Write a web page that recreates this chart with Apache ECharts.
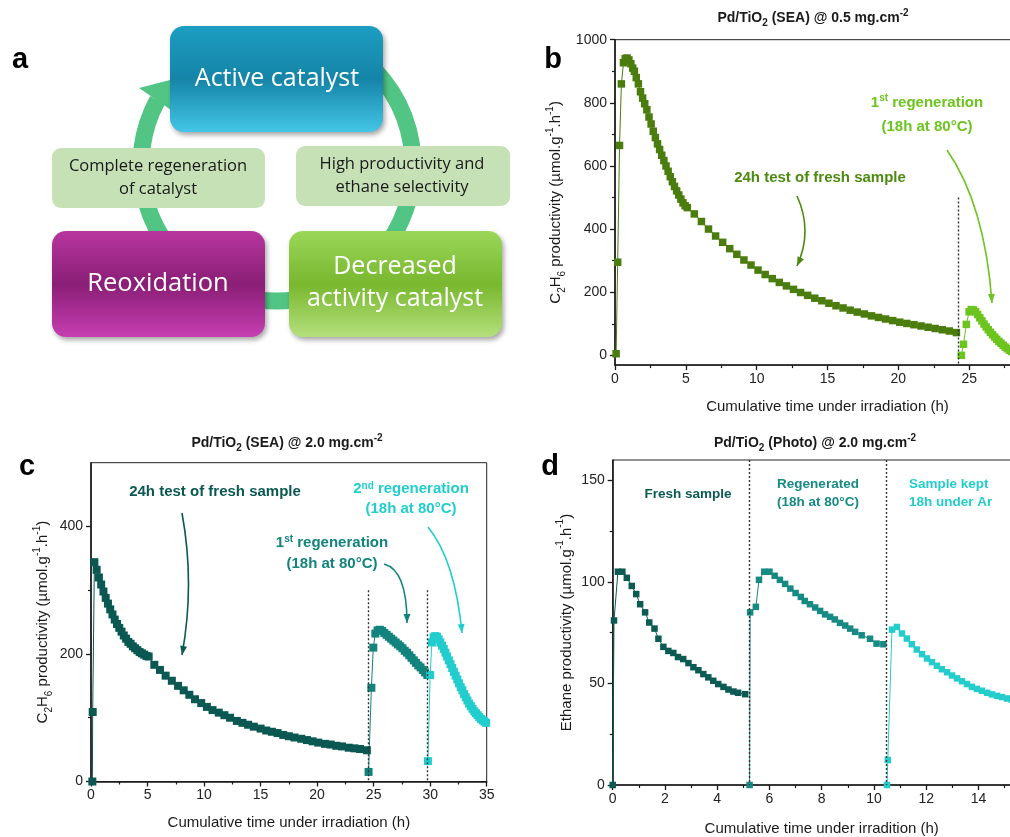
<!DOCTYPE html>
<html>
<head>
<meta charset="utf-8">
<script src="https://cdn.jsdelivr.net/npm/echarts@6/dist/echarts.min.js"></script>
<style>
  html, body { margin: 0; padding: 0; background: #fff; }
  #main { width: 1010px; height: 837px; }
</style>
</head>
<body>
<div id="main"></div>
<script>
// ---- data ----
// panel b : Pd/TiO2 (SEA) @ 0.5 mg.cm-2
var bFreshT = [0.08, 0.19, 0.32, 0.45, 0.6, 0.72, 0.85, 0.98, 1.12, 1.25, 1.37, 1.5, 1.65, 1.8, 1.95, 2.1, 2.25, 2.4, 2.55, 2.7, 2.85, 3.0, 3.15, 3.3, 3.45, 3.6, 3.75, 3.9, 4.05, 4.2, 4.35, 4.5, 4.65, 4.8, 4.95, 5.1,
  5.6, 6.1, 6.6, 7.1, 7.6, 8.1, 8.6, 9.1, 9.6, 10.1, 10.6, 11.1, 11.6, 12.1, 12.6, 13.1, 13.6, 14.1, 14.6, 15.1, 15.6, 16.1, 16.6, 17.1, 17.6, 18.1, 18.6, 19.1, 19.6, 20.1, 20.6, 21.1, 21.6, 22.1, 22.6, 23.1, 23.6, 24.1];
var bFreshV = [5, 295, 665, 860, 927, 940, 942, 936, 924, 910, 900, 880, 860, 835, 815, 797, 778, 755, 733, 710, 690, 670, 652, 634, 617, 600, 583, 566, 550, 535, 521, 508, 495, 483, 474, 468,
  448, 424, 400, 378, 358, 338, 320, 302, 286, 270, 256, 243, 231, 220, 209, 199, 190, 181, 173, 165, 157, 150, 143, 137, 131, 125, 120, 115, 110, 105, 101, 97, 93, 89, 85, 81, 77, 72];
var bRegenT = [24.45, 24.6, 24.8, 25.0, 25.15, 25.3, 25.45, 25.6, 25.75, 25.9, 26.05, 26.2, 26.35, 26.5, 26.65, 26.8, 26.95, 27.1, 27.25, 27.4, 27.55, 27.7, 27.85, 28.0];
var bRegenV = [0, 35, 98, 138, 145, 144, 138, 129, 119, 109, 99, 90, 81, 73, 65, 58, 51, 44, 38, 32, 26, 21, 16, 12];
var bBreak = 24.2;

// panel c : Pd/TiO2 (SEA) @ 2.0 mg.cm-2
var cFreshT = [0.12, 0.15, 0.3, 0.5, 0.7, 0.9, 1.1, 1.3, 1.5, 1.7, 1.9, 2.1, 2.3, 2.5, 2.7, 2.9, 3.1, 3.3, 3.5, 3.7, 3.9, 4.1, 4.3, 4.5, 4.7, 4.9, 5.1,
  5.6, 6.1, 6.6, 7.15, 7.7, 8.2, 8.7, 9.2, 9.75, 10.25, 10.75, 11.3, 11.8, 12.3, 12.9, 13.4, 13.9, 14.4, 15.0, 15.5, 16.0, 16.5, 17.0, 17.5, 18.0, 18.6, 19.1, 19.6, 20.1, 20.7, 21.2, 21.7, 22.2, 22.8, 23.3, 23.8, 24.4];
var cFreshV = [0, 109, 344, 332, 320, 309, 298, 288, 279, 270, 262, 254, 247, 241, 235, 229, 224, 219, 216, 212, 209, 206, 203, 201, 199, 197, 196,
  183, 175, 166, 158, 150, 143, 136, 129, 123, 117, 112, 108, 104, 100, 95, 92, 89, 86, 83, 80, 78, 76, 73, 71, 69, 67, 65, 63, 61, 59, 58, 56, 55, 53, 52, 51, 49];
var cRegen1T = [24.55, 24.8, 24.97, 25.15, 25.35, 25.55, 25.75, 25.95, 26.15, 26.35, 26.55, 26.75, 26.95, 27.15, 27.35, 27.55, 27.75, 27.95, 28.15, 28.35, 28.55, 28.75, 28.95, 29.15, 29.35, 29.55, 29.75];
var cRegen1V = [15, 147, 210, 232, 237, 238, 236, 233, 230, 227, 224, 221, 218, 215, 212, 209, 205, 202, 198, 194, 190, 186, 182, 179, 175, 171, 167];
var cRegen2T = [29.8, 30.0, 30.15, 30.3, 30.45, 30.6, 30.75, 30.9, 31.05, 31.2, 31.35, 31.5, 31.65, 31.8, 31.95, 32.1, 32.25, 32.4, 32.55, 32.7, 32.85, 33.0, 33.15, 33.3, 33.45, 33.6, 33.75, 33.9, 34.05, 34.2, 34.35, 34.5, 34.65, 34.8, 34.95];
var cRegen2V = [32, 167, 218, 226, 228, 227, 223, 218, 213, 208, 202, 196, 190, 184, 178, 172, 166, 160, 154, 148, 143, 137, 132, 127, 122, 118, 114, 110, 107, 104, 101, 98, 96, 94, 92];
var cBreaks = [24.5, 29.75];

// panel d : Pd/TiO2 (Photo) @ 2.0 mg.cm-2
var dFreshT = [0, 0.05, 0.2, 0.37, 0.54, 0.73, 0.9, 1.05, 1.24, 1.4, 1.6, 1.75, 1.94, 2.13, 2.32, 2.5, 2.7, 2.9, 3.09, 3.28, 3.47, 3.66, 3.85, 4.04, 4.24, 4.43, 4.62, 4.8, 5.07];
var dFreshV = [0, 81, 105, 105, 102, 98, 94, 89, 85, 80, 77, 72, 68, 66, 65, 63, 62, 60, 58, 56.5, 54.6, 53, 51.3, 49.7, 48.3, 47, 46, 45.4, 44.7];
var dRegenT = [5.24, 5.26, 5.48, 5.6, 5.8, 6.0, 6.2, 6.4, 6.6, 6.8, 7.0, 7.2, 7.35, 7.55, 7.75, 7.94, 8.13, 8.32, 8.5, 8.7, 8.9, 9.09, 9.28, 9.53, 9.85, 10.1, 10.36];
var dRegenV = [0, 85, 87.7, 101, 105, 105, 103, 101, 99, 96.7, 94.5, 92.6, 90.6, 89, 87.4, 85.7, 84, 82.8, 81.5, 79.8, 78.5, 77, 75.4, 73.7, 72, 69.6, 69.3];
var dArT = [10.5, 10.53, 10.69, 10.88, 11.07, 11.26, 11.45, 11.64, 11.84, 12.03, 12.22, 12.41, 12.6, 12.8, 12.99, 13.18, 13.37, 13.56, 13.75, 13.94, 14.13, 14.33, 14.52, 14.71, 14.9, 15.09, 15.28];
var dArV = [0, 12.3, 76.5, 77.8, 74.6, 72.1, 69.3, 66.7, 64.4, 62.3, 60.5, 58.7, 57, 55.5, 53.9, 52.5, 51.1, 49.7, 48.3, 47.3, 46.4, 45.4, 44.6, 43.9, 43.3, 42.6, 42];
var dBreaks = [5.22, 10.47];

// tick values
var bXTicks = [0, 5, 10, 15, 20, 25], bXMinor = [2.5, 7.5, 12.5, 17.5, 22.5, 27.5];
var bYTicks = [0, 200, 400, 600, 800, 1000], bYMinor = [100, 300, 500, 700, 900];
var cXTicks = [0, 5, 10, 15, 20, 25, 30, 35], cXMinor = [2.5, 7.5, 12.5, 17.5, 22.5, 27.5, 32.5];
var cYTicks = [0, 200, 400], cYMinor = [100, 300];
var dXTicks = [0, 2, 4, 6, 8, 10, 12, 14], dXMinor = [1, 3, 5, 7, 9, 11, 13, 15];
var dYTicks = [0, 50, 100, 150], dYMinor = [25, 75, 125];

// ---- styling ----
var F = 'Arial, "Liberation Sans", sans-serif';
var FA = '"Open Sans", "Noto Sans", sans-serif';
var ink = '#1a1a1a';

var nameRich = {
  n: { fontFamily: F, fontSize: 15, color: ink, lineHeight: 22 },
  sub: { fontFamily: F, fontSize: 10, color: ink, lineHeight: 12, verticalAlign: 'bottom' },
  sup: { fontFamily: F, fontSize: 10, color: ink, lineHeight: 12, verticalAlign: 'top' }
};
var c2h6Name = '{n|C}{sub|2}{n|H}{sub|6}{n| productivity (µmol.g}{sup|-1}{n|.h}{sup|-1}{n|)}';
var ethName = '{n|Ethane productivity (µmol.g}{sup|-1}{n|.h}{sup|-1}{n|)}';

function pairs(t, v) {
  return t.map(function(x, i) { return [x, v[i]]; });
}

function mainX(gi, min, max, ticks, name, gap) {
  return {
    type: 'value', gridIndex: gi, min: min, max: max, position: 'bottom',
    name: name, nameLocation: 'middle', nameGap: gap,
    nameTextStyle: { fontFamily: F, fontSize: 15, color: ink },
    axisLine: { onZero: false, lineStyle: { color: ink, width: 1.6 } },
    axisTick: { customValues: ticks, length: 5, lineStyle: { color: ink, width: 1.3 } },
    axisLabel: { customValues: ticks, margin: 7, fontFamily: F, fontSize: 14, color: '#222',
      formatter: function(v) { return String(v); } },
    splitLine: { show: false }
  };
}
function mainY(gi, min, max, ticks, name, gap) {
  return {
    type: 'value', gridIndex: gi, min: min, max: max, position: 'left',
    name: name, nameLocation: 'middle', nameGap: gap,
    nameTextStyle: { fontFamily: F, fontSize: 15, color: ink, lineHeight: 22, rich: nameRich },
    axisLine: { onZero: false, lineStyle: { color: ink, width: 1.6 } },
    axisTick: { customValues: ticks, length: 5, lineStyle: { color: ink, width: 1.3 } },
    axisLabel: { customValues: ticks, margin: 8, fontFamily: F, fontSize: 14, color: '#222',
      formatter: function(v) { return String(v); } },
    splitLine: { show: false }
  };
}
function minorAxis(gi, min, max, ticks, pos) {
  return {
    type: 'value', gridIndex: gi, min: min, max: max, position: pos,
    axisLine: { show: false, onZero: false },
    axisTick: { show: true, customValues: ticks, length: 3, lineStyle: { color: ink, width: 1.2 } },
    axisLabel: { show: false },
    splitLine: { show: false }
  };
}

function dots(lines) {
  return {
    silent: true, symbol: ['none', 'none'], label: { show: false },
    lineStyle: { type: [2, 2], color: '#333', width: 1.4 },
    data: lines
  };
}

function scatterLine(name, gi, t, v, color, size, mark) {
  var s = {
    name: name, type: 'line', xAxisIndex: gi, yAxisIndex: gi,
    data: pairs(t, v), symbol: 'rect', symbolSize: size, showSymbol: true,
    itemStyle: { color: color }, lineStyle: { color: color, width: 1 },
    emphasis: { disabled: true }, z: 3
  };
  if (mark) s.markLine = mark;
  return s;
}

// ---- panel a : cycle diagram (decoration) ----
function grad(c0, c1, c2) {
  return new echarts.graphic.LinearGradient(0, 0, 0, 1, [
    { offset: 0, color: c0 }, { offset: 0.5, color: c1 }, { offset: 1, color: c2 }
  ]);
}
var shadow = { shadowBlur: 5, shadowOffsetX: 2, shadowOffsetY: 3, shadowColor: 'rgba(0,0,0,0.35)' };
var ringColor = '#52c585';
var centered = { align: 'center', verticalAlign: 'middle', textAlign: 'center', textVerticalAlign: 'middle' };

var graphics = [
  { type: 'arc', z: 1, shape: { cx: 277, cy: 165, r: 136, startAngle: -Math.PI / 3, endAngle: 3.64, clockwise: true },
    style: { stroke: ringColor, lineWidth: 17, fill: null } },
  { type: 'polygon', z: 1, shape: { points: [[139, 88], [171, 110], [170, 80]] }, style: { fill: ringColor } },
  { type: 'rect', z: 2, shape: { x: 52, y: 148, width: 213, height: 60, r: 9 }, style: { fill: '#c6e1b6' } },
  { type: 'rect', z: 2, shape: { x: 296, y: 146, width: 214, height: 60, r: 9 }, style: { fill: '#c6e1b6' } },
  { type: 'rect', z: 3, shape: { x: 170, y: 26, width: 213, height: 106, r: 14 },
    style: Object.assign({ fill: grad('#1c9ec2', '#1584a7', '#43c6e6') }, shadow) },
  { type: 'rect', z: 3, shape: { x: 52, y: 231, width: 213, height: 106, r: 14 },
    style: Object.assign({ fill: grad('#b7369f', '#8a1e76', '#c63eb1') }, shadow) },
  { type: 'rect', z: 3, shape: { x: 289, y: 231, width: 213, height: 106, r: 14 },
    style: Object.assign({ fill: grad('#9ad75a', '#78b72e', '#b4e07c') }, shadow) },
  { type: 'text', z: 4, x: 277, y: 79,
    style: Object.assign({ text: 'Active catalyst', fill: '#fff', fontFamily: FA, fontSize: 25 }, centered) },
  { type: 'text', z: 4, x: 158, y: 284,
    style: Object.assign({ text: 'Reoxidation', fill: '#fff', fontFamily: FA, fontSize: 25.5 }, centered) },
  { type: 'text', z: 4, x: 395, y: 283,
    style: Object.assign({ text: 'Decreased\nactivity catalyst', fill: '#fff', fontFamily: FA, fontSize: 25, lineHeight: 32 }, centered) },
  { type: 'text', z: 4, x: 158, y: 178,
    style: Object.assign({ text: 'Complete regeneration\nof catalyst', fill: '#1a1a1a', fontFamily: FA, fontSize: 16.5, lineHeight: 23 }, centered) },
  { type: 'text', z: 4, x: 402, y: 176,
    style: Object.assign({ text: 'High productivity and\nethane selectivity', fill: '#1a1a1a', fontFamily: FA, fontSize: 16.5, lineHeight: 23 }, centered) }
];

// panel letters
[['a', 20, 60], ['b', 553, 60], ['c', 27, 467], ['d', 550, 467]].forEach(function(p) {
  graphics.push({ type: 'text', z: 5, x: p[1], y: p[2],
    style: Object.assign({ text: p[0], fill: '#000', fontFamily: F, fontWeight: 'bold', fontSize: 29 }, centered) });
});

// titles
var titleRich = {
  t: { fontFamily: F, fontWeight: 'bold', fontSize: 14, fill: ink, color: ink, lineHeight: 20 },
  sub: { fontFamily: F, fontWeight: 'bold', fontSize: 10, fill: ink, color: ink, lineHeight: 11, verticalAlign: 'bottom' },
  sup: { fontFamily: F, fontWeight: 'bold', fontSize: 10, fill: ink, color: ink, lineHeight: 11, verticalAlign: 'top' }
};
[['(SEA) @ 0.5', 813, 18], ['(SEA) @ 2.0', 287, 443], ['(Photo) @ 2.0', 815, 443]].forEach(function(p) {
  graphics.push({ type: 'text', z: 5, x: p[1], y: p[2],
    style: Object.assign({ text: '{t|Pd/TiO}{sub|2}{t| ' + p[0] + ' mg.cm}{sup|-2}', rich: titleRich, fill: ink }, centered) });
});

// annotations
function note(text, x, y, color, size, lh, align) {
  var rich = {
    t: { fontFamily: F, fontWeight: 'bold', fontSize: size, fill: color, color: color, lineHeight: lh },
    s: { fontFamily: F, fontWeight: 'bold', fontSize: size - 5, fill: color, color: color, lineHeight: lh, verticalAlign: 'top', padding: [2, 0, 0, 0] }
  };
  graphics.push({ type: 'text', z: 5, x: x, y: y,
    style: { text: text, rich: rich, fill: color, align: align || 'center', verticalAlign: 'middle',
      textAlign: align || 'center', textVerticalAlign: 'middle' } });
}
function arrow(x1, y1, cx, cy, x2, y2, color) {
  graphics.push({ type: 'bezierCurve', z: 5,
    shape: { x1: x1, y1: y1, cpx1: cx, cpy1: cy, x2: x2, y2: y2 },
    style: { stroke: color, lineWidth: 1.6, fill: null } });
  var dx = x2 - cx, dy = y2 - cy, l = Math.sqrt(dx * dx + dy * dy);
  dx /= l; dy /= l;
  var bx = x2 - dx * 9, by = y2 - dy * 9;
  graphics.push({ type: 'polygon', z: 5,
    shape: { points: [[x2, y2], [bx - dy * 3.5, by + dx * 3.5], [bx + dy * 3.5, by - dx * 3.5]] },
    style: { fill: color } });
}

var bDark = '#4a7d0e', bLight = '#6cc41e';
var cDark = '#0b5852', cMid = '#13837e', cCyan = '#22cdcd';
var dDark = '#0c5a54', dMid = '#178a84', dCyan = '#25cccc';

note('{t|24h test of fresh sample}', 820, 178, '#4e8a12', 15, 20);
arrow(797, 196, 813, 231, 797, 266, '#4e8a12');
note('{t|1}{s|st}{t| regeneration}\n{t|(18h at 80°C)}', 927, 115, bLight, 15, 24);
arrow(947, 150, 985, 205, 992, 303, bLight);

note('{t|24h test of fresh sample}', 215, 492, cDark, 15, 20);
arrow(182, 513, 195, 584, 182, 655, cDark);
note('{t|1}{s|st}{t| regeneration}\n{t|(18h at 80°C)}', 332, 553, cMid, 15, 21);
arrow(384, 564, 407, 570, 407, 623, cMid);
note('{t|2}{s|nd}{t| regeneration}\n{t|(18h at 80°C)}', 411, 499, cCyan, 15, 20);
arrow(428, 527, 455, 560, 462, 633, cCyan);

note('{t|Fresh sample}', 688, 494, dDark, 13.5, 18);
note('{t|Regenerated}\n{t|(18h at 80°C)}', 818, 493, dMid, 13.5, 18);
note('{t|Sample kept}\n{t|18h under Ar}', 909, 493, dCyan, 13.5, 18, 'left');

// ---- chart ----
var chart = echarts.init(document.getElementById('main'), null, { renderer: 'canvas' });

var gB = { left: 615, top: 39.7, width: 425, height: 325.4 };
var gC = { left: 91, top: 462.7, width: 395.7, height: 318.8 };
var gD = { left: 612.7, top: 460, width: 418, height: 325 };
function grid(g, frame) {
  return { left: g.left, top: g.top, width: g.width, height: g.height, containLabel: false, outerBoundsMode: 'none',
    show: frame, borderColor: '#222', borderWidth: 1, backgroundColor: 'transparent' };
}

chart.setOption({
  animation: false,
  backgroundColor: '#fff',
  grid: [grid(gB, true), grid(gB, false), grid(gC, true), grid(gC, false), grid(gD, true), grid(gD, false)],
  xAxis: [
    mainX(0, 0, 30, bXTicks, 'Cumulative time under irradiation (h)', 34),
    minorAxis(1, 0, 30, bXMinor, 'bottom'),
    mainX(2, 0, 35, cXTicks, 'Cumulative time under irradiation (h)', 34),
    minorAxis(3, 0, 35, cXMinor, 'bottom'),
    mainX(4, 0, 16, dXTicks, 'Cumulative time under irradition (h)', 36),
    minorAxis(5, 0, 16, dXMinor, 'bottom')
  ],
  yAxis: [
    mainY(0, -31, 1000, bYTicks, c2h6Name, 48),
    minorAxis(1, -31, 1000, bYMinor, 'left'),
    mainY(2, 0, 500, cYTicks, c2h6Name, 37),
    minorAxis(3, 0, 500, cYMinor, 'left'),
    mainY(4, 0, 160, dYTicks, ethName, 35),
    minorAxis(5, 0, 160, dYMinor, 'left')
  ],
  series: [
    scatterLine('b fresh', 0, bFreshT, bFreshV, bDark, 7.5,
      dots([[{ coord: [bBreak, 500] }, { coord: [bBreak, -31] }]])),
    scatterLine('b regen', 0, bRegenT, bRegenV, bLight, 7.5),
    scatterLine('c fresh', 2, cFreshT, cFreshV, cDark, 8,
      dots(cBreaks.map(function(x) { return [{ coord: [x, 300] }, { coord: [x, 0] }]; }))),
    scatterLine('c regen1', 2, cRegen1T, cRegen1V, cMid, 8),
    scatterLine('c regen2', 2, cRegen2T, cRegen2V, cCyan, 8),
    scatterLine('d fresh', 4, dFreshT, dFreshV, dDark, 6.5,
      dots(dBreaks.map(function(x) { return [{ coord: [x, 160] }, { coord: [x, 0] }]; }))),
    scatterLine('d regen', 4, dRegenT, dRegenV, dMid, 6.5),
    scatterLine('d ar', 4, dArT, dArV, dCyan, 6.5)
  ],
  graphic: graphics
});
window.addEventListener('resize', function() { chart.resize(); });
</script>
</body>
</html>
